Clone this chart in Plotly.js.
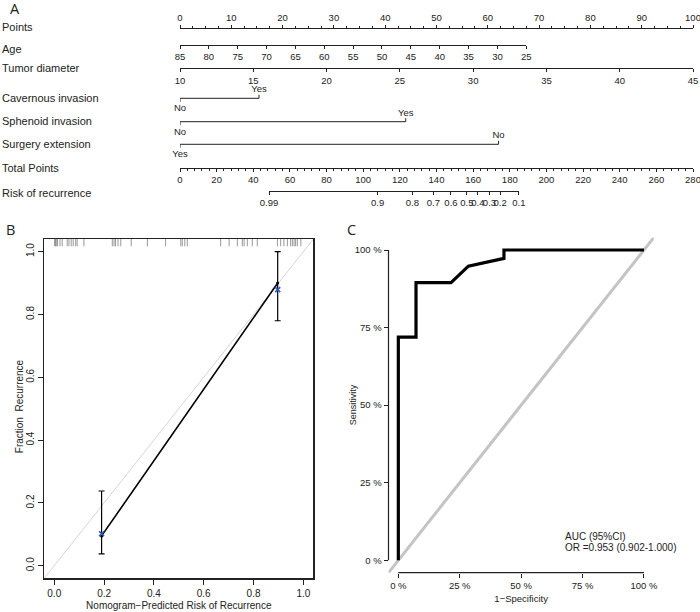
<!DOCTYPE html>
<html>
<head>
<meta charset="utf-8">
<script src="https://cdn.plot.ly/plotly-3.0.1.min.js"></script>
<style>html,body{margin:0;padding:0;background:#fff;}#plot{width:700px;height:612px;}</style>
</head>
<body>
<div id="plot"></div>
<script>
// ---------------- DATA ----------------
// Panel A: nomogram
const rowLabels = ['Points','Age','Tumor diameter','Cavernous invasion','Sphenoid invasion','Surgery extension','Total Points','Risk of recurrence'];
const pointsRange = [0, 100];
const ageTicks = [85, 80, 75, 70, 65, 60, 55, 50, 45, 40, 35, 30, 25];
const ageMaxPoints = 67.5;            // points given to age 25
const tumorTicks = [10, 15, 20, 25, 30, 35, 40, 45];
const tumorMaxPoints = 100;           // points given to 45 mm
const cavLevels = ['No', 'Yes'];
const cavPoints = [0, 15.4];
const sphLevels = ['No', 'Yes'];
const sphPoints = [0, 44.0];
const surLevels = ['Yes', 'No'];
const surPoints = [0, 62.1];
const totalRange = [0, 280];
const riskLabels = ['0.99','0.9','0.8','0.7','0.6','0.5','0.4','0.3','0.2','0.1'];
const riskTotalPoints = [48.6, 107.9, 126.8, 138.3, 147.9, 156.6, 162.6, 168.9, 174.7, 185.0];

// Panel B: calibration
const calPred = [0.19, 0.897];
const calApparent = [0.095, 0.90];
const calObserved = [0.102, 0.879];
const calLower = [0.038, 0.78];
const calUpper = [0.238, 1.0];
const rugPred = [0.002,0.004,0.008,0.013,0.023,0.032,0.052,0.059,0.068,0.076,0.086,0.092,0.119,
  0.233,0.240,0.246,0.256,0.267,0.309,0.374,0.447,0.508,0.514,0.524,0.534,0.668,0.702,0.735,
  0.755,0.762,0.775,0.795,0.815,0.896,0.909,0.922,0.936,0.949,0.956,0.963,0.969,0.976,0.990];
const calTicks = [0, 0.2, 0.4, 0.6, 0.8, 1.0];

// Panel C: ROC
const rocFpr = [0, 0, 0.072, 0.072, 0.2145, 0.285, 0.43, 0.43, 1.0];
const rocTpr = [0, 0.719, 0.719, 0.895, 0.895, 0.948, 0.973, 1.0, 1.0];
const rocTicks = [0, 0.25, 0.5, 0.75, 1.0];
const rocTickText = ['0 %', '25 %', '50 %', '75 %', '100 %'];
const aucText = ['AUC (95%CI)', 'OR =0.953 (0.902-1.000)'];

// ---------------- LAYOUT HELPERS ----------------
const W = 700, H = 612;
const fx = px => px / W;
const fy = py => 1 - py / H;
const FONT = "'Liberation Sans', Arial, Helvetica, sans-serif";
const INK = '#222';

// nomogram geometry (pixels)
const nomoL = 180, nomoR = 693;
const ptsPx = p => nomoL + (p - pointsRange[0]) / (pointsRange[1] - pointsRange[0]) * (nomoR - nomoL);
const totPx = t => nomoL + (t - totalRange[0]) / (totalRange[1] - totalRange[0]) * (nomoR - nomoL);
const rowY = {points: 27.5, age: 45, tumor: 68.3, cav: 98.3, sph: 121.7, sur: 144.3, total: 167.5, risk: 190.5};
const labelY = [27.3, 49.3, 68.3, 98.3, 120.7, 144, 167.7, 192.7];

function nomoAxis(extra) {
  return Object.assign({
    anchor: 'free', showline: true, linecolor: INK, linewidth: 1,
    ticks: 'outside', ticklen: 3, tickcolor: INK, tickwidth: 1, tickangle: 0,
    ticklabeloverflow: 'allow',
    showgrid: false, zeroline: false, fixedrange: true,
    tickfont: {family: FONT, size: 9.5, color: INK}
  }, extra);
}

const traces = [];
const NY = 210; // nomogram y-axis spans top 210 px, data units = pixels

// categorical rows
function catRow(pts, levels, y) {
  traces.push({x: pts, y: [y, y], mode: 'lines', line: {color: INK, width: 1},
    xaxis: 'x', yaxis: 'y', hoverinfo: 'skip'});
  traces.push({x: [pts[0], pts[0]], y: [y, y + 3.5], mode: 'lines', line: {color: INK, width: 1},
    xaxis: 'x', yaxis: 'y', hoverinfo: 'skip'});
  traces.push({x: [pts[1], pts[1]], y: [y, y - 3.5], mode: 'lines', line: {color: INK, width: 1},
    xaxis: 'x', yaxis: 'y', hoverinfo: 'skip'});
  traces.push({x: [pts[0]], y: [y + 10.5], mode: 'text', text: [levels[0]],
    textfont: {family: FONT, size: 9.5, color: INK}, textposition: 'middle center',
    xaxis: 'x', yaxis: 'y', hoverinfo: 'skip', cliponaxis: false});
  traces.push({x: [pts[1]], y: [y - 8.5], mode: 'text', text: [levels[1]],
    textfont: {family: FONT, size: 9.5, color: INK}, textposition: 'middle center',
    xaxis: 'x', yaxis: 'y', hoverinfo: 'skip', cliponaxis: false});
}
catRow(cavPoints, cavLevels, rowY.cav);
catRow(sphPoints, sphLevels, rowY.sph);
catRow(surPoints, surLevels, rowY.sur);

// dummy traces so each nomogram axis has a subplot
['x2','x3','x4','x5'].forEach(xa => traces.push({x: [], y: [], xaxis: xa, yaxis: 'y', hoverinfo: 'skip'}));

// Panel B traces
traces.push({x: [-0.04, 1.04], y: [-0.04, 1.04], mode: 'lines', line: {color: '#d6d6d6', width: 1},
  xaxis: 'x8', yaxis: 'y8', hoverinfo: 'skip'});
traces.push({x: rugPred, y: rugPred.map(() => 1.0305), mode: 'markers',
  marker: {symbol: 'line-ns-open', size: 6, color: 'rgba(70,70,70,0.55)', line: {width: 1}},
  xaxis: 'x8', yaxis: 'y8', hoverinfo: 'skip'});
traces.push({x: calPred, y: calApparent, mode: 'lines+markers', line: {color: '#000', width: 1.6},
  marker: {size: 3, color: '#000'}, xaxis: 'x8', yaxis: 'y8'});
traces.push({x: calPred, y: calObserved, mode: 'markers',
  marker: {symbol: 'x-thin-open', size: 5, color: '#2a56c6', line: {width: 1.6}},
  error_y: {type: 'data', symmetric: false,
    array: calUpper.map((u, i) => u - calObserved[i]),
    arrayminus: calObserved.map((o, i) => o - calLower[i]),
    color: '#000', thickness: 1.2, width: 3},
  xaxis: 'x8', yaxis: 'y8'});

// Panel C traces
traces.push({x: [-0.04, 1.04], y: [-0.04, 1.04], mode: 'lines', line: {color: '#c4c4c4', width: 3},
  xaxis: 'x9', yaxis: 'y9', hoverinfo: 'skip'});
traces.push({x: rocFpr, y: rocTpr, mode: 'lines', line: {color: '#000', width: 3.2},
  xaxis: 'x9', yaxis: 'y9'});

// ---------------- AXES ----------------
const bDom = {x: [44.3, 313.3], y: [578.3, 239.1]};
const cDom = {x: [388.5, 653.8], y: [572.7, 237.6]};
const cRange = [-0.04, 1.04];
const cX = v => cDom.x[0] + (v - cRange[0]) / (cRange[1] - cRange[0]) * (cDom.x[1] - cDom.x[0]);
const cY = v => cDom.y[0] + (v - cRange[0]) / (cRange[1] - cRange[0]) * (cDom.y[1] - cDom.y[0]);

const annotations = [];
const addText = (text, x, y, size, extra) => annotations.push(Object.assign({
  text, x: fx(x), y: fy(y), xref: 'paper', yref: 'paper', showarrow: false,
  xanchor: 'left', yanchor: 'middle', font: {family: FONT, size, color: INK}}, extra || {}));

rowLabels.forEach((t, i) => addText(t, 0, labelY[i], 11));
const panelFont = {family: "'Open Sans', " + FONT, size: 14.5, color: INK};
addText('A', 8, 9, 14.5, {font: panelFont});
addText('B', 4, 229, 14.5, {font: panelFont});
addText('C', 345, 229, 14.5, {font: panelFont});
aucText.forEach((t, i) => addText(t, 562.5, 536 + i * 11.8, 10));
addText('Sensitivity', 353, (cY(0) + cY(1)) / 2, 9, {xanchor: 'center', textangle: -90});
addText('Fraction\u00a0\u00a0Recurrence', 19.5, (bDom.y[0] + bDom.y[1]) / 2 - 2, 10, {xanchor: 'center', textangle: -90});

const layout = {
  width: W, height: H, margin: {l: 0, r: 0, t: 0, b: 0},
  paper_bgcolor: '#fff', plot_bgcolor: 'rgba(0,0,0,0)', showlegend: false,
  font: {family: FONT, color: INK},
  yaxis: {domain: [fy(NY), 1], range: [NY, 0], visible: false, anchor: 'x', fixedrange: true},
  xaxis: nomoAxis({domain: [fx(nomoL), fx(nomoR)], range: pointsRange, position: fy(rowY.points),
    side: 'top', ticklen: 3, dtick: 10, tick0: 0,
    minor: {dtick: 2.5, tick0: 0, ticks: 'outside', ticklen: 2, tickcolor: INK, showgrid: false}}),
  xaxis2: nomoAxis({domain: [fx(nomoL), fx(ptsPx(ageMaxPoints))], range: [ageTicks[0], ageTicks[ageTicks.length - 1]],
    position: fy(rowY.age), side: 'bottom', tickvals: ageTicks}),
  xaxis3: nomoAxis({domain: [fx(nomoL), fx(ptsPx(tumorMaxPoints))], range: [tumorTicks[0], tumorTicks[tumorTicks.length - 1]],
    position: fy(rowY.tumor), side: 'bottom', tickvals: tumorTicks}),
  xaxis4: nomoAxis({domain: [fx(nomoL), fx(nomoR)], range: totalRange, position: fy(rowY.total),
    side: 'bottom', dtick: 20, tick0: 0, ticklen: 3,
    minor: {dtick: 4, tick0: 0, ticks: 'outside', ticklen: 2, tickcolor: INK, showgrid: false}}),
  xaxis5: nomoAxis({domain: [fx(totPx(riskTotalPoints[0])), fx(totPx(riskTotalPoints[riskTotalPoints.length - 1]))],
    range: [riskTotalPoints[0], riskTotalPoints[riskTotalPoints.length - 1]],
    position: fy(rowY.risk), side: 'bottom', tickvals: riskTotalPoints, ticktext: riskLabels}),

  xaxis8: {domain: [fx(bDom.x[0]), fx(bDom.x[1])], range: [-0.04, 1.04], anchor: 'y8',
    showline: true, mirror: true, linecolor: INK, linewidth: 1.2, ticks: 'outside', ticklen: 5,
    tickcolor: INK, tickvals: calTicks, tickformat: '.1f', showgrid: false, zeroline: false,
    tickfont: {family: FONT, size: 10, color: INK}, fixedrange: true,
    title: {text: 'Nomogram\u2212Predicted Risk of Recurrence', font: {family: FONT, size: 10, color: INK}, standoff: 4}},
  yaxis8: {domain: [fy(bDom.y[0]), fy(bDom.y[1])], range: [-0.04, 1.04], anchor: 'x8',
    showline: true, mirror: true, linecolor: INK, linewidth: 1.2, ticks: 'outside', ticklen: 5,
    tickcolor: INK, tickvals: calTicks, tickformat: '.1f', tickangle: -90, showgrid: false, zeroline: false,
    tickfont: {family: FONT, size: 10, color: INK}, fixedrange: true},

  xaxis9: {domain: [fx(cDom.x[0]), fx(cDom.x[1])], range: cRange, anchor: 'y9',
    showline: false, ticks: 'outside', ticklen: 4, tickcolor: INK, tickvals: rocTicks, ticktext: rocTickText,
    showgrid: false, zeroline: false, tickfont: {family: FONT, size: 9.5, color: INK}, fixedrange: true,
    title: {text: '1\u2212Specificity', font: {family: FONT, size: 9.5, color: INK}, standoff: 5}},
  yaxis9: {domain: [fy(cDom.y[0]), fy(cDom.y[1])], range: cRange, anchor: 'x9',
    showline: false, ticks: 'outside', ticklen: 4, tickcolor: INK, tickvals: rocTicks, ticktext: rocTickText,
    showgrid: false, zeroline: false, tickfont: {family: FONT, size: 9.5, color: INK}, fixedrange: true},

  shapes: [
    {type: 'line', xref: 'paper', yref: 'paper', x0: fx(cDom.x[0]), x1: fx(cDom.x[0]),
      y0: fy(cY(rocTicks[0])), y1: fy(cY(rocTicks[rocTicks.length - 1])), line: {color: INK, width: 1.2}},
    {type: 'line', xref: 'paper', yref: 'paper', x0: fx(cX(rocTicks[0])), x1: fx(cX(rocTicks[rocTicks.length - 1])),
      y0: fy(cDom.y[0]), y1: fy(cDom.y[0]), line: {color: INK, width: 1.2}}
  ],
  annotations
};

Plotly.newPlot('plot', traces, layout, {staticPlot: true, displayModeBar: false});
</script>
</body>
</html>
